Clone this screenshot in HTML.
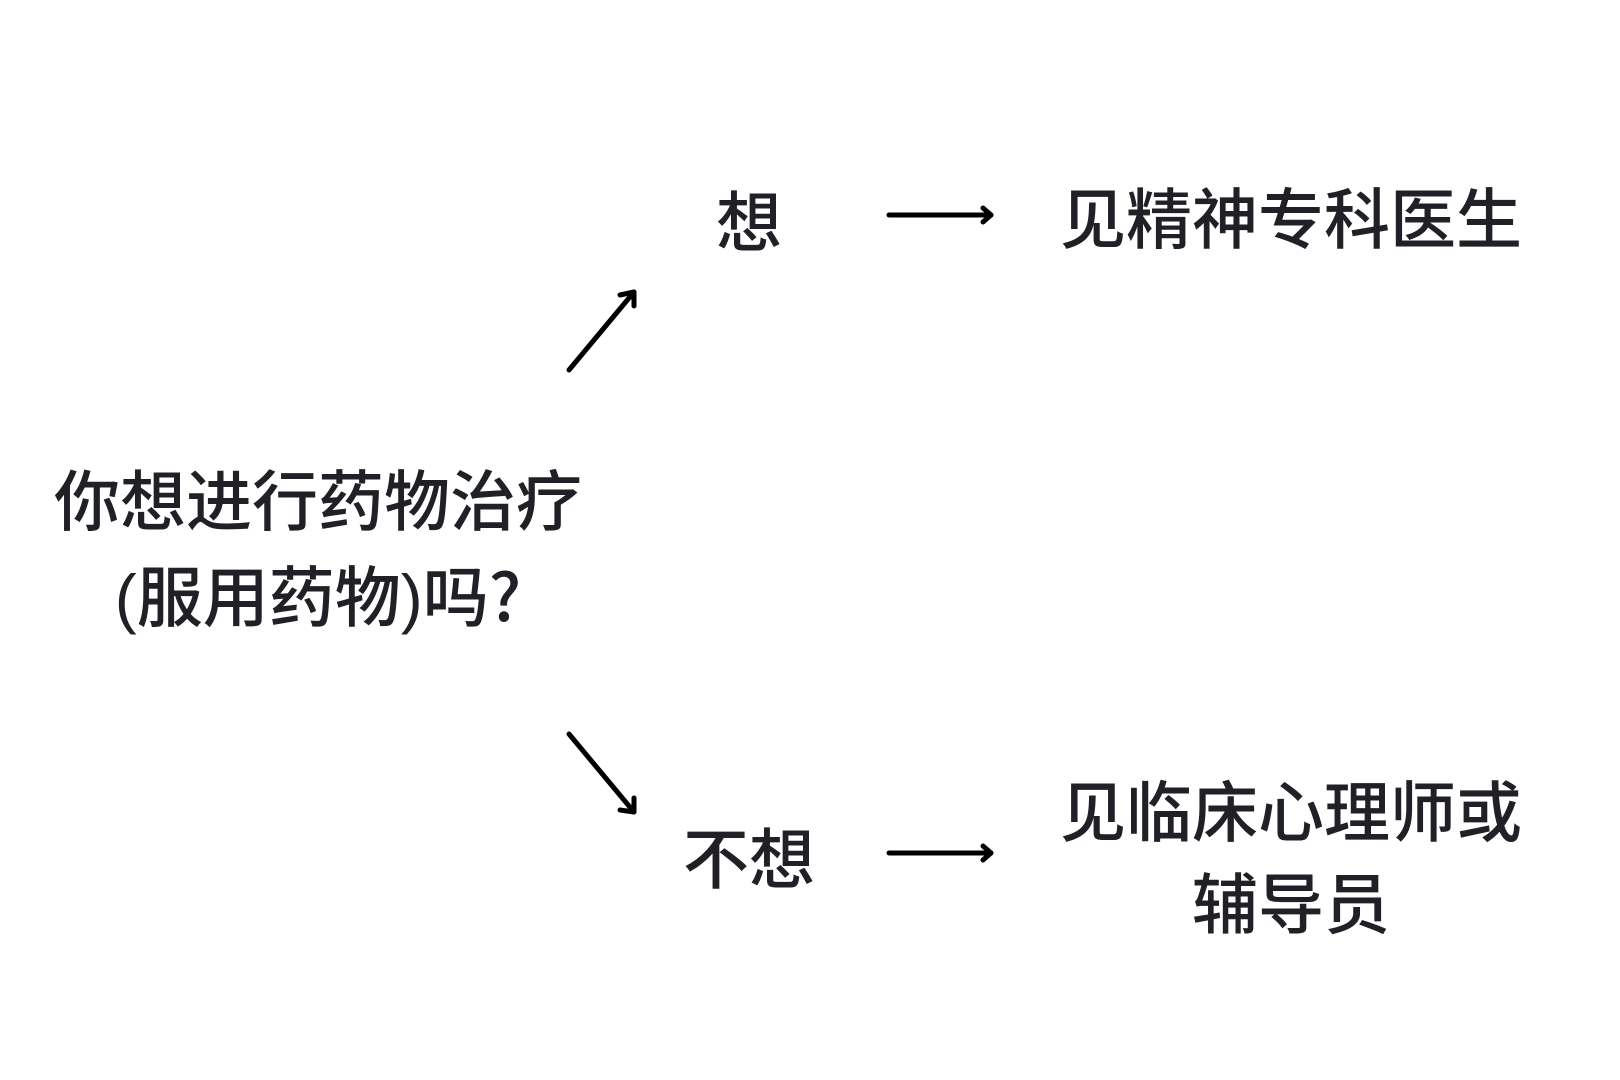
<!DOCTYPE html>
<html><head><meta charset="utf-8"><style>
html,body{margin:0;padding:0;background:#fff;}
body{width:1620px;height:1080px;position:relative;overflow:hidden;font-family:"Liberation Sans","Noto Sans CJK SC",sans-serif;color:#222026;}
.t{position:absolute;font-size:66px;line-height:92px;text-align:center;font-weight:500;white-space:nowrap;}
</style></head><body>
<div class="t" style="left:18px;width:600px;top:456px;">你想进行药物治疗</div>
<div class="t" style="left:18px;width:600px;top:547px;">(服用药物)吗<span style="font-family:'Noto Sans CJK SC',sans-serif">?</span></div>
<div class="t" style="left:649px;width:200px;top:177px;">想</div>
<div class="t" style="left:649px;width:200px;top:814px;">不想</div>
<div class="t" style="left:1041px;width:500px;top:174px;">见精神专科医生</div>
<div class="t" style="left:1041px;width:500px;top:767px;">见临床心理师或<br>辅导员</div>
<svg width="1620" height="1080" style="position:absolute;left:0;top:0" fill="none" stroke="#000" stroke-width="5" stroke-linecap="round" stroke-linejoin="round">
<line x1="569" y1="370" x2="634" y2="292"/>
<polyline points="620,295 634,292 634,306"/>
<line x1="569" y1="734" x2="634" y2="812"/>
<polyline points="620,810 634,812 634,798"/>
<line x1="889" y1="215" x2="991" y2="215"/>
<polyline points="983,208 991,215 983,222"/>
<line x1="889" y1="853" x2="991" y2="853"/>
<polyline points="983,846 991,853 983,860"/>
</svg>
</body></html>
